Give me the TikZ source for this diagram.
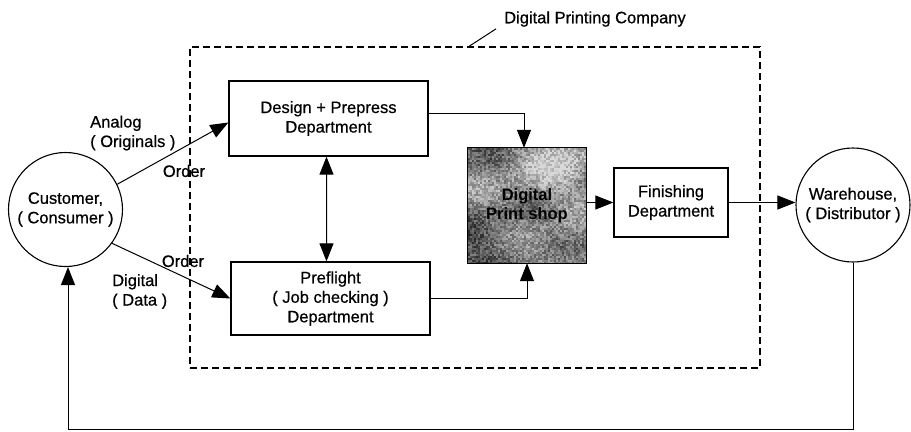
\documentclass[tikz,border=0pt]{standalone}
\usepackage{fontspec}
\setmainfont{Liberation Sans}[FakeBold=0.6]
\newfontfamily\shopfont{Liberation Sans Bold}
\usetikzlibrary{arrows.meta,calc}

\tikzset{
  txt/.style={font=\fontsize{16.5bp}{19.5bp}\selectfont, align=center, inner sep=0pt},
  dept/.style={draw, line width=1.3bp, txt, minimum width=#1},
  party/.style={draw, circle, line width=1.1bp, txt, minimum size=114bp},
  frame/.style={draw, dashed, dash pattern=on 7bp off 4bp, line width=1.2bp, inner sep=0pt},
  link/.style={line width=1bp},
  tip/.tip={Triangle[length=18bp,width=14bp]},
  arr/.style={link, -tip},
  darr/.style={link, tip-tip},
}

\begin{document}
\begin{tikzpicture}[x=1bp,y=-1bp]
\useasboundingbox (0,0) rectangle (911,431);

% company frame and its label
\node[frame, minimum width=570bp, minimum height=321bp] (company) at (475,207.5) {};
\node[txt] (complabel) at (595,19) {Digital Printing Company};
\coordinate (lead) at (468,47);
\draw[link] ([xshift=-8bp,yshift=-2bp]complabel.south west) -- (lead);

% departments
\node[dept=199bp, minimum height=75bp] (design) at (328.5,118.5) {Design + Prepress\\Department};
\node[dept=199bp, minimum height=73bp] (preflight) at (330.5,298.5) {Preflight\\( Job checking )\\Department};
\node[dept=114bp, minimum height=69bp] (finish) at (671,202.5) {Finishing\\Department};

% digital print shop with mottled grey fill
\node[minimum width=118bp, minimum height=115bp, inner sep=0pt] (print) at (527,205.5) {};
\begin{scope}
  \clip (print.north west) rectangle (print.south east);
  \fill[black!45] (print.north west) rectangle (print.south east);
  \pgfmathsetseed{7}
  \foreach \i in {0,...,58}{
    \foreach \j in {0,...,57}{
      \pgfmathsetmacro\lv{max(15,min(85,48 + 16*sin(\i*6+\j*3)*cos(\j*9-\i*2) - 9*sin(\j*5+\i*1.5) + 10*cos(\i*4) + 34*rnd - 17))}
      \fill[black!\lv] ($(print.north west)+(\i*2,\j*2)$) rectangle +(2,2);
    }
  }
\end{scope}
\draw[line width=1.3bp] (print.north west) rectangle (print.south east);
\node[txt, font=\shopfont\fontsize{16.5bp}{19.5bp}\selectfont] (printlabel) at (print.center) {Digital\\Print shop};

% parties
\node[party] (customer) at (65.5,209.5) {Customer,\\( Consumer )};
\node[party] (warehouse) at (853,205) {Warehouse,\\( Distributor )};

% order flows
\draw[arr] (customer.26) -- ([yshift=-4bp]design.west);
\draw[arr] (customer.-36) -- (preflight.west);
\node[txt, align=left, anchor=west] (analog) at (90,133) {Analog\\( Originals )};
\node[txt] (order1) at (184,171) {Order};
\node[txt] (order2) at (183,261) {Order};
\node[txt, align=left, anchor=west] (digital) at (112,291.5) {Digital\\( Data )};

% internal flows
\draw[darr] ([xshift=-2bp]design.south) -- ([xshift=-4bp]preflight.north);
\draw[arr] ([yshift=5.5bp]design.east) -| ([xshift=-3bp]print.north);
\draw[arr] (preflight.east) -| (print.south);
\draw[arr] (finish.west -| print.east) -- (finish.west);
\draw[arr] (finish.east) -- (finish.east -| warehouse.west);

% return path
\coordinate (retbase) at (460,429);
\draw[arr] (warehouse.south) |- (retbase) -| ([xshift=2.5bp]customer.south);
\end{tikzpicture}
\end{document}
